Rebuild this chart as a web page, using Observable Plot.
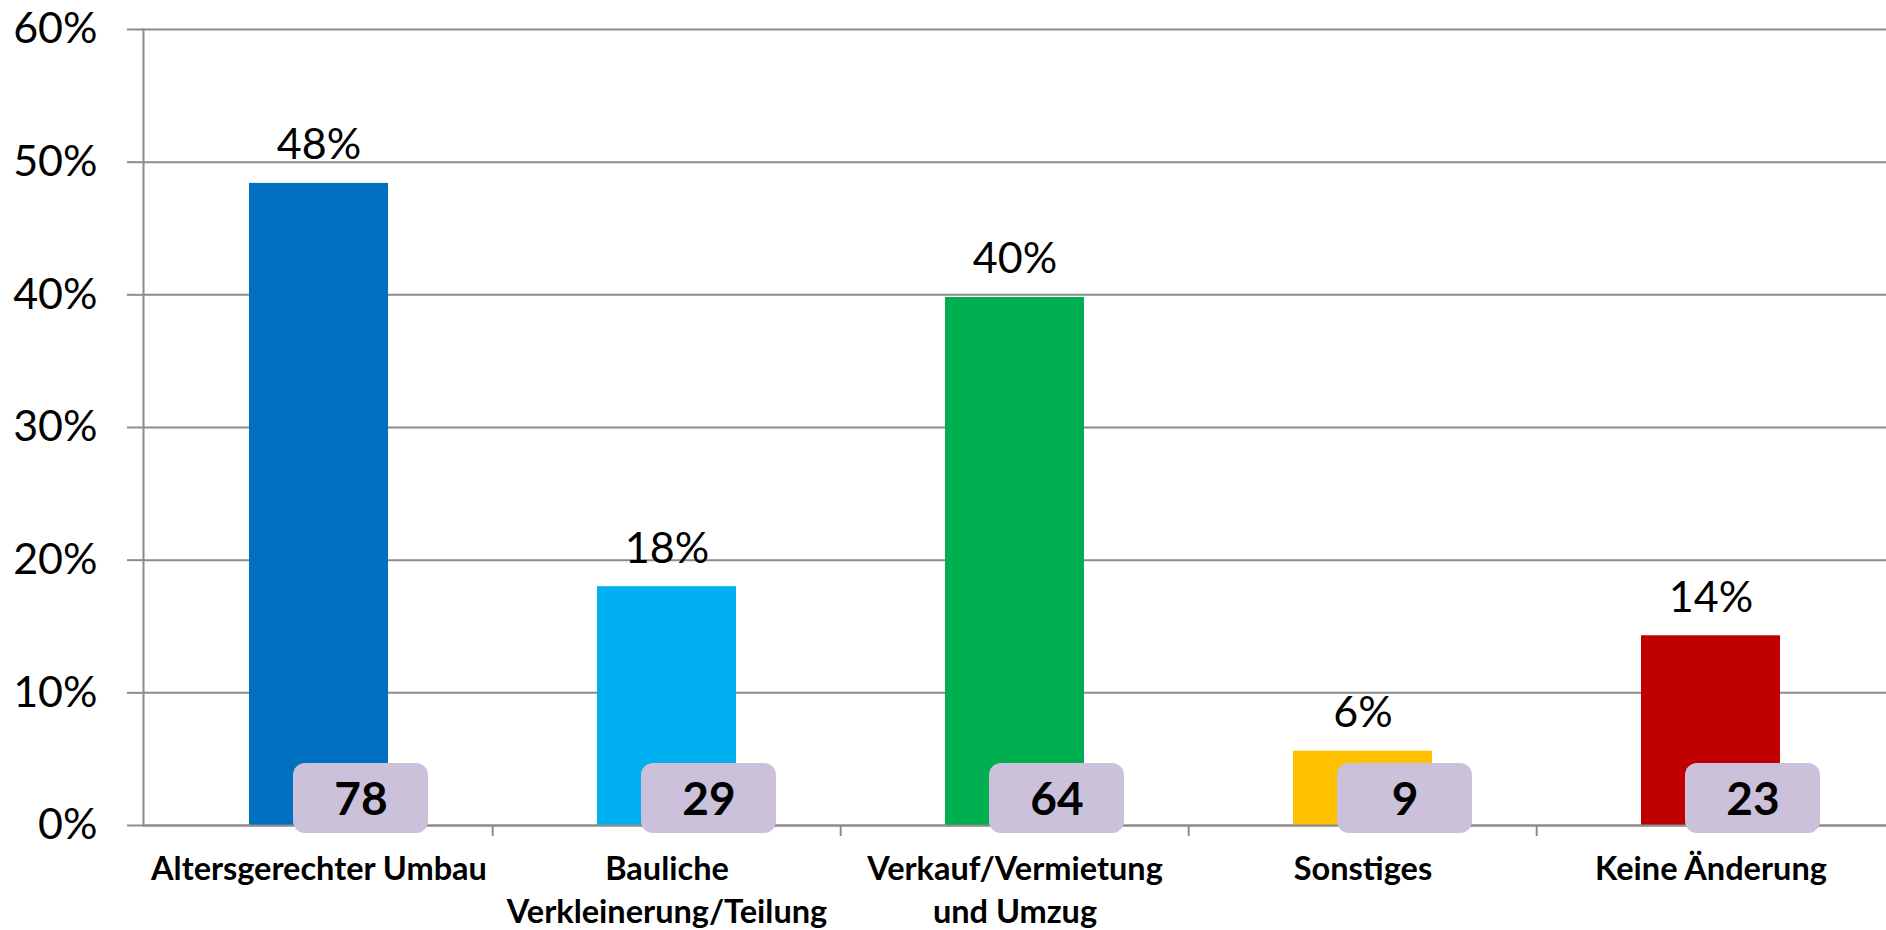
<!DOCTYPE html>
<html><head><meta charset="utf-8">
<script src="https://cdn.jsdelivr.net/npm/d3@7"></script>
<script src="https://cdn.jsdelivr.net/npm/@observablehq/plot@0.6"></script>
<style>body{margin:0;background:#fff} svg{display:block}</style>
</head><body><div id="chart"></div>
<script>
const categories = ["Altersgerechter Umbau", "Bauliche\nVerkleinerung/Teilung", "Verkauf/Vermietung\nund Umzug", "Sonstiges", "Keine Änderung"];
const shares = [0.484, 0.180, 0.398, 0.056, 0.143];
const shareLabels = ["48%", "18%", "40%", "6%", "14%"];
const counts = [78, 29, 64, 9, 23];
const colors = ["#0070C0", "#00B0F0", "#00B050", "#FFC000", "#C00000"];
const yTicks = [0, 0.1, 0.2, 0.3, 0.4, 0.5, 0.6];

const data = categories.map((c, i) => ({category: c, share: shares[i], label: shareLabels[i], count: counts[i], color: colors[i]}));

const W = 1886, H = 930, ML = 143, MR = 0, MT = 29, MB = 105;
const step = (W - ML - MR) / categories.length;
const gray = "#8c8c8c";

const chart = Plot.plot({
  width: W, height: H,
  marginLeft: ML, marginRight: MR, marginTop: MT, marginBottom: MB,
  style: {fontFamily: "Lato, 'Open Sans', sans-serif", background: "#fff", color: "#000"},
  x: {type: "band", domain: categories, paddingInner: 0.6, paddingOuter: 0.3, label: null},
  y: {domain: [0, 0.6], label: null},
  marks: [
    Plot.gridY(yTicks, {stroke: gray, strokeOpacity: 1, strokeWidth: 2}),
    Plot.axisY(yTicks, {tickFormat: d3.format(".0%"), tickSize: 16, tickPadding: 30, fontSize: 43, stroke: gray, strokeWidth: 2, fill: "#000", label: null}),
    Plot.barY(data, {x: "category", y: "share", fill: d => d.color}),
    Plot.ruleY([0], {stroke: gray, strokeWidth: 2}),
    Plot.frame({anchor: "left", stroke: gray, strokeWidth: 2}),
    Plot.ruleX(categories.slice(1), {x: d => d, dx: -step / 2, y1: 0, y2: 0, insetBottom: -11, stroke: gray, strokeWidth: 2}),
    Plot.axisX({tickSize: 0, tickPadding: 24, fontSize: 32.5, fontWeight: "bold", lineHeight: 1.33, fill: "#000", label: null}),
    Plot.text(data, {x: "category", y: "share", text: "label", dy: -24, lineAnchor: "bottom", fontSize: 43, fill: "#000"}),
    Plot.barY(data, {x: "category", y1: 0, y2: 0, insetTop: -62, insetBottom: -8, insetLeft: 2, insetRight: 2, dx: 42, fill: "#CCC1DA", rx: 12}),
    Plot.text(data, {x: "category", y: () => 0, text: d => String(d.count), dx: 42, dy: -25, fontSize: 46, fontWeight: "bold", fill: "#000"})
  ]
});
document.getElementById("chart").append(chart);
</script>
</body></html>
